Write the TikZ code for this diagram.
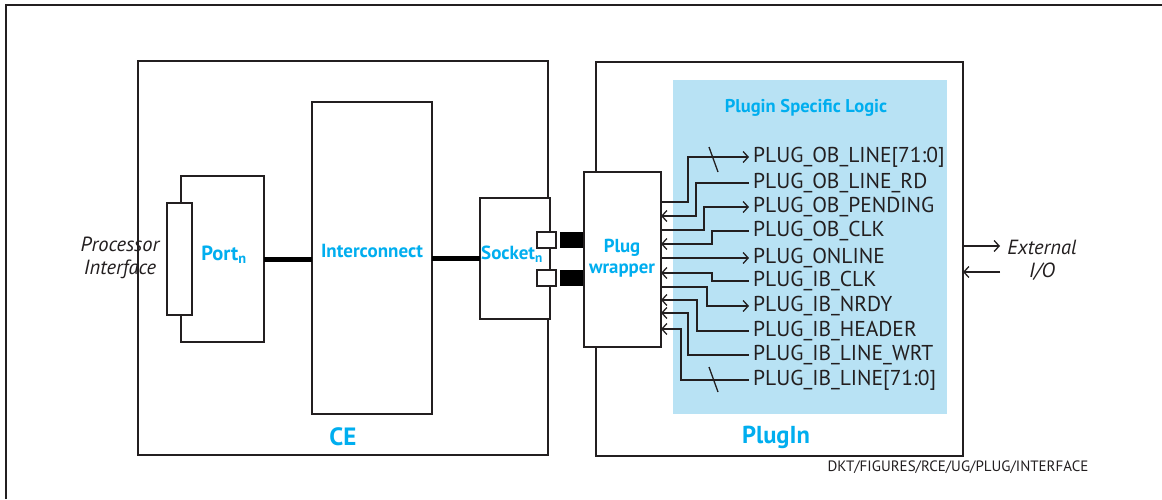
\documentclass[tikz,border=0pt]{standalone}
\usepackage{fontspec}
\setmainfont{PT Sans}
\usetikzlibrary{arrows.meta}
\definecolor{cyanT}{RGB}{0,174,239}
\definecolor{plfill}{RGB}{184,226,244}
\definecolor{ink}{RGB}{35,31,32}
\begin{document}
\begin{tikzpicture}[x=1pt,y=-1pt,
  >={Straight Barb[length=5pt,width=11pt]},
  box/.style={draw=ink, line width=1.4pt, inner sep=0pt, outer sep=0pt, anchor=north west, fill=white},
  bigbox/.style={box, line width=2pt},
  lbl/.style={text=cyanT, font=\fontsize{19}{23}\selectfont\bfseries, align=center},
  sigtxt/.style={anchor=west, inner xsep=4pt, inner ysep=0pt, text=ink,
    font=\fontsize{21.5}{24}\selectfont, text height=15pt, text depth=4pt},
  sig/.style={draw=ink, line width=1.3pt},
  bus/.style={draw=black, line width=5pt},
  note/.style={text=ink, font=\fontsize{20.5}{23}\selectfont\itshape, align=center}
]
\useasboundingbox (0,0) rectangle (1162,499);
\fill[white] (0,0) rectangle (1162,499);
% outer frame
\draw[ink, line width=1.8pt] (6,499) -- (6,5) -- (1162,5);

% main boxes
\node[bigbox, minimum width=410pt, minimum height=394pt] (ce) at (138,61) {};
\node[bigbox, minimum width=367pt, minimum height=394pt] (plugin) at (596,62) {};
\node[anchor=north west, fill=plfill, inner sep=0pt, minimum width=274pt, minimum height=334pt] (psl) at (673,80) {};
\node[lbl, font=\fontsize{18.5}{21}\selectfont\bfseries] (psltxt) at (806,108) {Plugin Specific Logic};
\node[lbl, font=\fontsize{25}{28}\selectfont\bfseries] (celbl) at (343,437) {CE};
\node[lbl, font=\fontsize{24.5}{28}\selectfont\bfseries] (pilbl) at (776,437) {PlugIn};

% CE contents
\node[box, minimum width=120pt, minimum height=312pt] (ic) at (312,102) {};
\node[lbl] (iclbl) at (372,251) {Interconnect};
\node[box, minimum width=83pt, minimum height=166pt] (port) at (181,176) {};
\node[box, minimum width=25pt, minimum height=112pt] (pin) at (167,203) {};
\node[lbl, font=\fontsize{20.5}{23}\selectfont\bfseries] (portlbl) at (224,255) {Port\textsubscript{n}};
\node[box, minimum width=70pt, minimum height=121pt] (sock) at (480,198) {};
\node[lbl] (socklbl) at (512,254) {Socket\textsubscript{n}};
\node[box, line width=1.2pt, minimum width=19pt, minimum height=16pt] (sq1) at (537,232) {};
\node[box, line width=1.2pt, minimum width=19pt, minimum height=16pt] (sq2) at (537,270) {};
\node[anchor=north west, fill=black, inner sep=0pt, minimum width=24pt, minimum height=16pt] (bk1) at (560,232) {};
\node[anchor=north west, fill=black, inner sep=0pt, minimum width=24pt, minimum height=16pt] (bk2) at (560,270) {};
\node[box, minimum width=77pt, minimum height=175pt] (pw) at (584,172) {};
\node[lbl, font=\fontsize{18.8}{21}\selectfont\bfseries] (pwlbl) at (622,258) {Plug\\wrapper};

\draw[bus] (port.east) -- (port.east -| ic.west);
\draw[bus] (sock.west -| ic.east) -- (sock.west);

% signal labels
\node[sigtxt] (s1) at (749,157) {PLUG\_OB\_LINE[71:0]};
\node[sigtxt] (s2) at (749,183) {PLUG\_OB\_LINE\_RD};
\node[sigtxt] (s3) at (749,207) {PLUG\_OB\_PENDING};
\node[sigtxt] (s4) at (749,231) {PLUG\_OB\_CLK};
\node[sigtxt] (s5) at (749,258) {PLUG\_ONLINE};
\node[sigtxt] (s6) at (749,281) {PLUG\_IB\_CLK};
\node[sigtxt] (s7) at (749,306) {PLUG\_IB\_NRDY};
\node[sigtxt] (s8) at (749,331) {PLUG\_IB\_HEADER};
\node[sigtxt] (s9) at (749,355) {PLUG\_IB\_LINE\_WRT};
\node[sigtxt] (s10) at (749,380) {PLUG\_IB\_LINE[71:0]};

\coordinate (w1) at (661,202);
\coordinate (w2) at (661,216);
\coordinate (w3) at (661,230);
\coordinate (w4) at (661,244);
\coordinate (w5) at (661,258);
\coordinate (w6) at (661,273);
\coordinate (w7) at (661,287);
\coordinate (w8) at (661,300);
\coordinate (w9) at (661,313);
\coordinate (w10) at (661,329);

\draw[sig,->] (w1) -- ++(27,0) |- (s1.west);
\draw[sig,<-] (w2) -- ++(35,0) |- (s2.west);
\draw[sig,->] (w3) -- ++(43,0) |- (s3.west);
\draw[sig,<-] (w4) -- ++(51,0) |- (s4.west);
\draw[sig,->] (w5) -- (s5.west);
\draw[sig,<-] (w6) -- ++(51,0) |- (s6.west);
\draw[sig,->] (w7) -- ++(46,0) |- (s7.west);
\draw[sig,<-] (w8) -- ++(36,0) |- (s8.west);
\draw[sig,<-] (w9) -- ++(27,0) |- (s9.west);
\draw[sig,<-] (w10) -- ++(20,0) |- (s10.west);

% bus slashes
\draw[sig] (709,147) -- (718,172);
\draw[sig] (709,367) -- (718,392);

% external I/O
\coordinate (e1) at (1000,246);
\coordinate (e2) at (1000,272);
\draw[sig,->] (e1 -| plugin.east) -- (e1);
\draw[sig,->] (e2) -- (e2 -| plugin.east);
\node[note] (ext) at (1042,260) {External\\I/O};
\node[note] (proc) at (120,258) {Processor\\Interface};

\node[text=ink, font=\fontsize{15}{18}\selectfont] (ref) at (958,467) {DKT/FIGURES/RCE/UG/PLUG/INTERFACE};
\end{tikzpicture}
\end{document}
